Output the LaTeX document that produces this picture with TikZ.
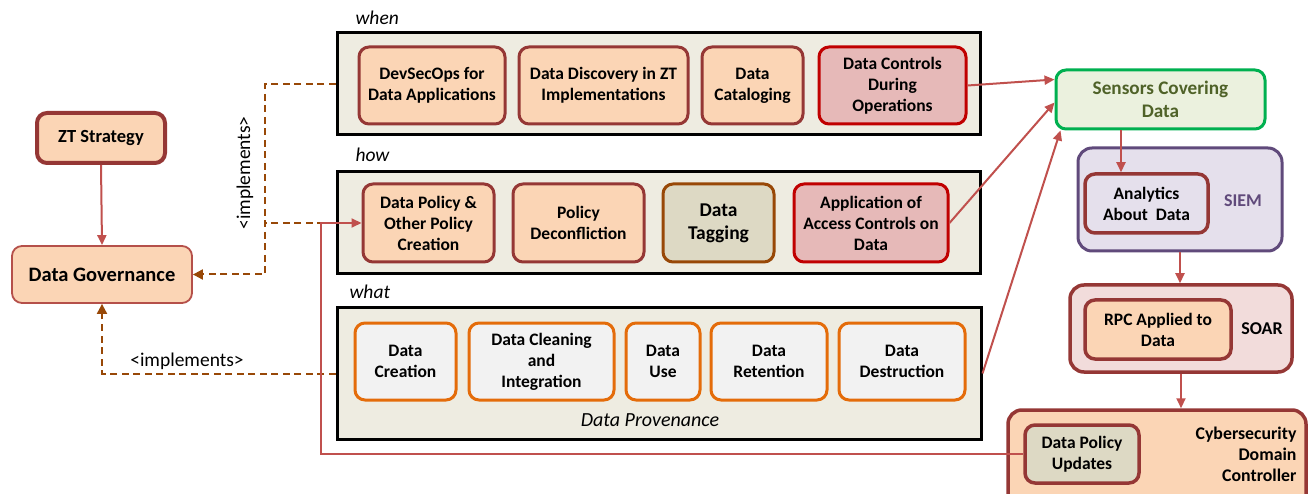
\documentclass[tikz,border=0pt]{standalone}
\usepackage{fontspec}
\setmainfont{Carlito}
\usetikzlibrary{arrows.meta,positioning,calc}
\definecolor{dred}{HTML}{953735}
\definecolor{peach}{HTML}{FBD5B5}
\definecolor{brt}{HTML}{C00000}
\definecolor{pinkf}{HTML}{E6B9B8}
\definecolor{brn}{HTML}{984807}
\definecolor{khaki}{HTML}{DDD9C4}
\definecolor{org}{HTML}{E46C0A}
\definecolor{lgray}{HTML}{F2F2F2}
\definecolor{bg}{HTML}{EEECE1}
\definecolor{arr}{HTML}{C0504D}
\definecolor{grn}{HTML}{00B050}
\definecolor{grnf}{HTML}{EBF1DE}
\definecolor{olive}{HTML}{4F6228}
\definecolor{purp}{HTML}{604A7B}
\definecolor{purpf}{HTML}{E5E0EC}
\definecolor{soarf}{HTML}{F2DCDB}
\definecolor{dgb}{HTML}{B5504A}
\tikzset{
  box/.style={rounded corners=10pt, align=center, font=\fontsize{17.5}{21}\selectfont\bfseries, inner sep=1pt},
  redbox/.style={box, draw=dred, line width=3pt, fill=peach},
  hotbox/.style={box, draw=brt, line width=3pt, fill=pinkf},
  tagbox/.style={box, draw=brn, line width=3pt, fill=khaki},
  orgbox/.style={box, draw=org, line width=3pt, fill=lgray},
  cont/.style={draw=black, line width=3pt, fill=bg},
  lbl/.style={font=\fontsize{19.5}{22}\selectfont\itshape, anchor=west},
  conn/.style={draw=arr, line width=2pt, -{Triangle[length=10pt,width=9pt]}},
  impl/.style={draw=brn, line width=2pt, dash pattern=on 7pt off 4.5pt, -{Triangle[length=10pt,width=10pt]}},
  impl0/.style={draw=brn, line width=2pt, dash pattern=on 7pt off 4.5pt},
}
\begin{document}
\begin{tikzpicture}[x=1pt,y=-1pt]
\useasboundingbox (0,0) rectangle (1309,494);
% left side
\node[box, draw=dred, line width=4pt, fill=peach, minimum width=128pt, minimum height=50pt, font=\fontsize{18.5}{22}\selectfont\bfseries] (zt) at (101,138) {ZT Strategy};
\node[box, draw=dgb, line width=1.8pt, fill=peach, minimum width=180pt, minimum height=57pt, font=\fontsize{20.5}{24}\selectfont\bfseries] (dg) at (102,274.5) {Data Governance};
% containers
\node[cont, minimum width=643pt, minimum height=102pt] (when) at (658.5,84) {};
\node[cont, minimum width=643pt, minimum height=102pt] (how) at (658.5,223) {};
\node[cont, minimum width=644pt, minimum height=131pt] (what) at (659,373.5) {};
\node[lbl] (lwhen) at (352,18) {when};
\node[lbl] (lhow) at (352,155) {how};
\node[lbl] (lwhat) at (346,292) {what};
\node[font=\fontsize{20}{22}\selectfont\itshape] (prov) at (650,420) {Data Provenance};
% when row
\node[redbox, minimum width=146pt, minimum height=77pt] (devsec) at (432,85.5) {DevSecOps for\\Data Applications};
\node[redbox, minimum width=169pt, minimum height=77pt] (disc) at (603.5,85.5) {Data Discovery in ZT\\Implementations};
\node[redbox, minimum width=101pt, minimum height=77pt] (catal) at (752.5,85.5) {Data\\Cataloging};
\node[hotbox, minimum width=147pt, minimum height=77pt] (ctrl) at (892.5,85.5) {Data Controls\\During\\Operations};
% how row
\node[redbox, minimum width=131pt, minimum height=78pt] (dpol) at (428.5,223) {Data Policy \&\\Other Policy\\Creation};
\node[redbox, minimum width=131pt, minimum height=78pt] (decon) at (578.5,223) {Policy\\Deconfliction};
\node[tagbox, minimum width=111pt, minimum height=78pt, font=\fontsize{19.5}{23}\selectfont\bfseries] (tag) at (718.5,223) {Data\\Tagging};
\node[hotbox, minimum width=154pt, minimum height=78pt] (access) at (871,223) {Application of\\Access Controls on\\Data};
% what row
\node[orgbox, minimum width=101pt, minimum height=77pt] (create) at (405.5,361.5) {Data\\Creation};
\node[orgbox, minimum width=145pt, minimum height=77pt] (clean) at (541.5,361.5) {Data Cleaning\\and\\Integration};
\node[orgbox, minimum width=74pt, minimum height=77pt] (use) at (663,361.5) {Data\\Use};
\node[orgbox, minimum width=116pt, minimum height=77pt] (reten) at (769,361.5) {Data\\Retention};
\node[orgbox, minimum width=126pt, minimum height=77pt] (destr) at (902,361.5) {Data\\Destruction};
% right side
\node[box, draw=grn, line width=3pt, fill=grnf, text=olive, minimum width=209pt, minimum height=59pt, font=\fontsize{19.2}{23}\selectfont\bfseries] (sensors) at (1160.5,99.5) {Sensors Covering\\Data};
\node[box, draw=purp, line width=3pt, fill=purpf, minimum width=204pt, minimum height=103pt, rounded corners=14pt] (siem) at (1180,199.5) {};
\node[box, draw=dred, line width=3.5pt, fill=purpf, minimum width=123pt, minimum height=59pt] (analytics) at (1146.5,203.5) {Analytics\\About~ Data};
\node[font=\fontsize{18}{20}\selectfont\bfseries, text=purp] (siemt) at (1243,201) {SIEM};
\node[box, draw=dred, line width=3.5pt, fill=soarf, minimum width=222pt, minimum height=87pt, rounded corners=14pt] (soar) at (1181,328.5) {};
\node[redbox, line width=3.5pt, minimum width=146pt, minimum height=59pt] (rpc) at (1158,329.5) {RPC Applied to\\Data};
\node[font=\fontsize{18}{20}\selectfont\bfseries] (soart) at (1262,329) {SOAR};
\node[box, draw=dred, line width=3.5pt, fill=peach, minimum width=298pt, minimum height=100pt, rounded corners=14pt] (cdc) at (1157,460) {};
\node[redbox, line width=3.5pt, fill=khaki, minimum width=114pt, minimum height=58pt] (dpu) at (1082,454) {Data Policy\\Updates};
\node[font=\fontsize{17.8}{21}\selectfont\bfseries, align=right, anchor=east] (cdct) at (1300,454) {Cybersecurity\\Domain\\Controller};
% connectors
\draw[conn] (zt.south) -- (dg.north);
\coordinate (jt) at (265,84);
\draw[impl] (when.west) -- (jt) |- (dg.east);
\draw[impl0] (how.west) -- (how.west -| jt);
\draw[impl] (what.west) -| (dg.south);
\node[font=\fontsize{19.5}{22}\selectfont, rotate=90] (imp1) at (245,173) {<implements>};
\node[font=\fontsize{19.5}{22}\selectfont] (imp2) at (187,361) {<implements>};
\coordinate (lp) at (321,454);
\draw[conn] (dpu.west) -- (lp) |- (dpol.west);
\draw[conn] (ctrl.east) -- ([yshift=20pt]sensors.west);
\draw[conn] (access.east) -- ([yshift=-3pt]sensors.west);
\draw[conn] (what.east) -- ([xshift=6pt]sensors.south west);
\draw[conn] ([xshift=-25.5pt]analytics.north |- sensors.south) -- ([xshift=-25.5pt]analytics.north);
\draw[conn] (siem.south) -- (siem.south |- soar.north);
\draw[conn] (soar.south) -- (soar.south |- cdc.north);
\end{tikzpicture}
\end{document}
